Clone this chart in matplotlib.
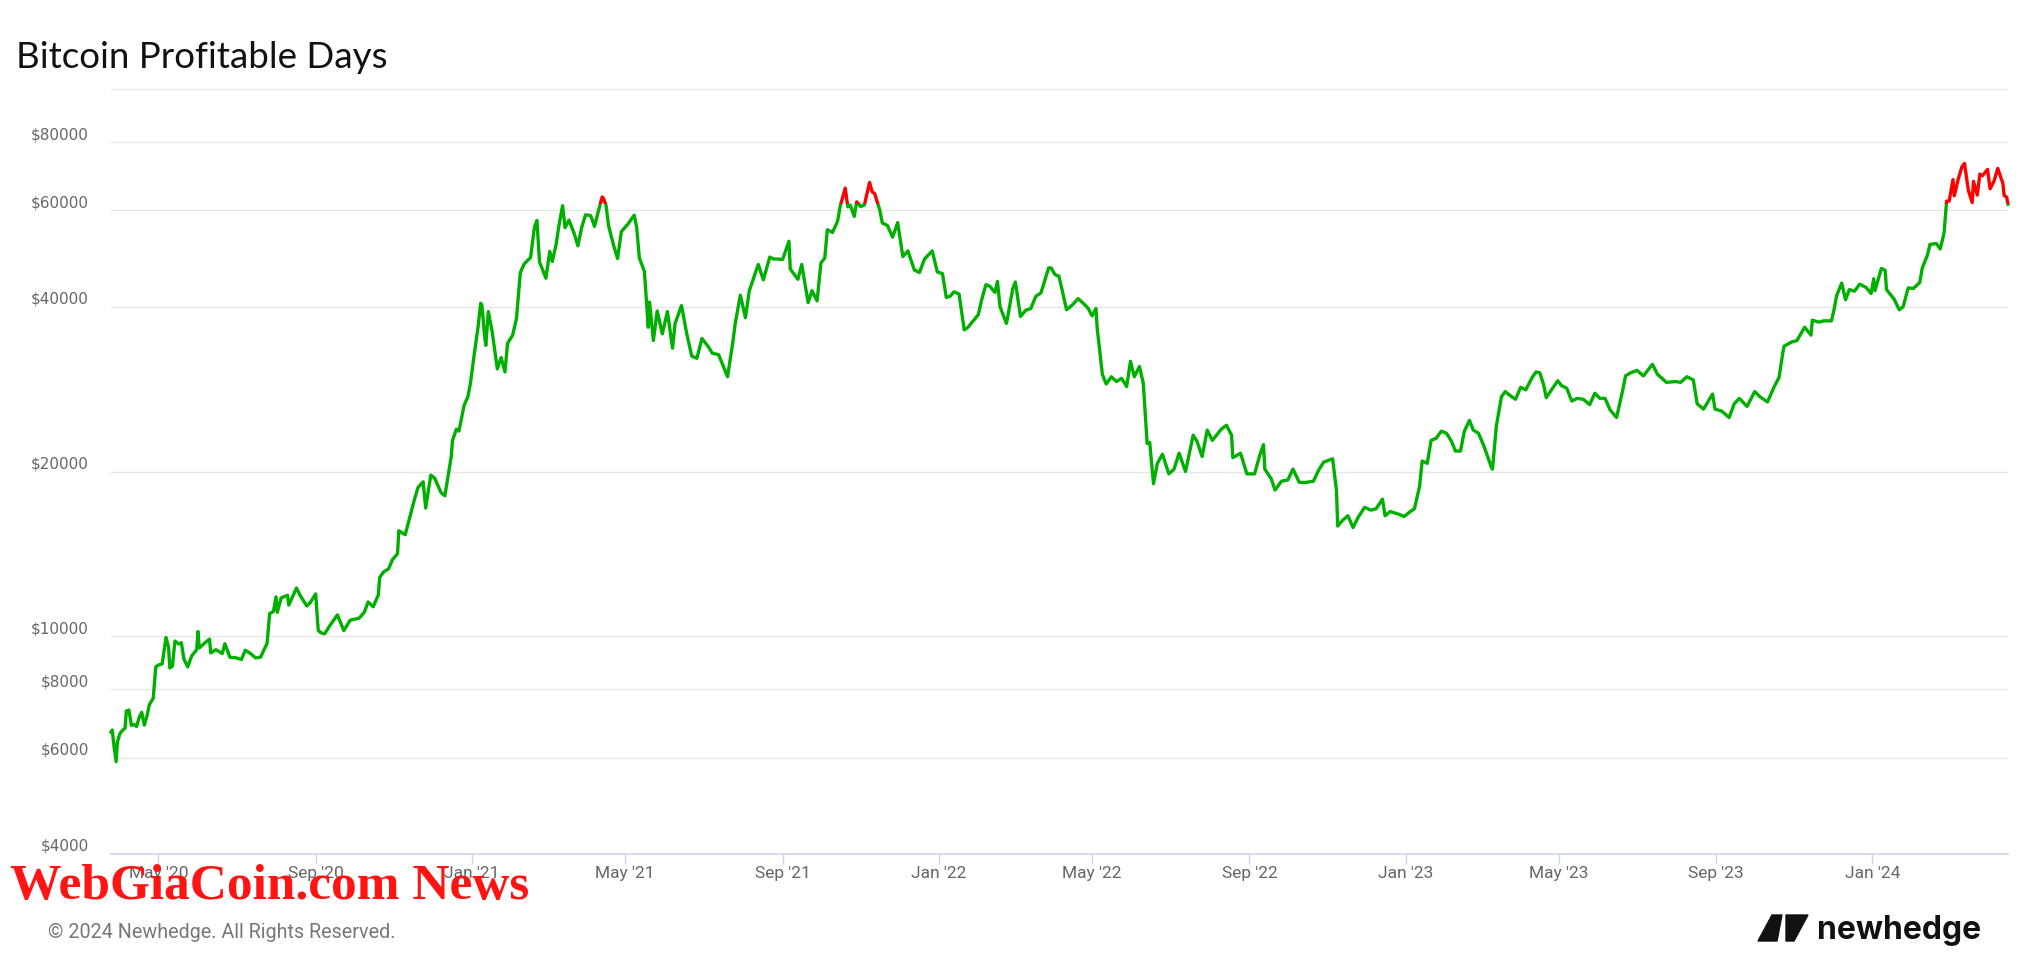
import numpy as np
import pandas as pd
import matplotlib
matplotlib.use("Agg")
import matplotlib.pyplot as plt
from matplotlib.patches import Rectangle, Polygon
import matplotlib.dates as mdates
from matplotlib.ticker import NullLocator

plt.rcParams['font.family'] = ['DejaVu Sans']

# daily close (USD)
d2020 = ["03-25", "03-26", "03-27", "03-29", "03-30", "04-01", "04-03", "04-05", "04-06", "04-08",
         "04-10", "04-12", "04-14", "04-16", "04-18", "04-20", "04-22", "04-24", "04-27", "04-29",
         "05-01", "05-04", "05-07", "05-09", "05-10", "05-12", "05-14", "05-17", "05-19", "05-21",
         "05-24", "05-27", "05-31", "06-01", "06-02", "06-07", "06-10", "06-11", "06-15", "06-20",
         "06-22", "06-26", "06-30", "07-05", "07-08", "07-12", "07-16", "07-20", "07-22", "07-25",
         "07-27", "07-30", "08-01", "08-02", "08-05", "08-10", "08-11", "08-17", "08-20", "08-25",
         "08-28", "09-01", "09-03", "09-05", "09-08", "09-12", "09-18", "09-23", "09-28", "10-05",
         "10-09", "10-12", "10-16", "10-20", "10-21", "10-24", "10-28", "10-31", "11-04", "11-05",
         "11-10", "11-13", "11-17", "11-20", "11-24", "11-26", "11-30", "12-03", "12-08", "12-11",
         "12-16", "12-17", "12-20", "12-22", "12-26", "12-29", "12-31"]
p2020 = [6680, 6740, 6390, 5900, 6410, 6640, 6730, 6790, 7300, 7330,
         6870, 6900, 6840, 7100, 7260, 6880, 7130, 7500, 7700, 8790,
         8860, 8900, 9950, 9550, 8750, 8820, 9800, 9680, 9730, 9080,
         8790, 9200, 9450, 10200, 9520, 9750, 9880, 9320, 9450, 9300,
         9690, 9150, 9140, 9070, 9430, 9300, 9130, 9160, 9380, 9700,
         11000, 11100, 11800, 11060, 11750, 11880, 11400, 12250, 11860, 11360,
         11540, 11950, 10250, 10150, 10100, 10450, 10940, 10240, 10700, 10790,
         11060, 11550, 11320, 11900, 12800, 13100, 13280, 13800, 14150, 15590,
         15330, 16300, 17700, 18700, 19150, 17150, 19700, 19450, 18300, 18060,
         21300, 22800, 23900, 23700, 26400, 27400, 29000]

d2021 = ["01-03", "01-06", "01-08", "01-09", "01-11", "01-12", "01-14", "01-17", "01-21", "01-24",
         "01-27", "01-29", "02-02", "02-05", "02-08", "02-11", "02-14", "02-16", "02-19", "02-21",
         "02-23", "02-25", "02-28", "03-03", "03-05", "03-08", "03-10", "03-13", "03-15", "03-18",
         "03-22", "03-25", "03-28", "03-31", "04-04", "04-07", "04-10", "04-13", "04-14", "04-16",
         "04-18", "04-22", "04-25", "04-28", "05-03", "05-08", "05-10", "05-12", "05-16", "05-19",
         "05-20", "05-23", "05-26", "05-30", "06-03", "06-07", "06-09", "06-14", "06-18", "06-22",
         "06-26", "06-30", "07-05", "07-08", "07-13", "07-20", "07-24", "07-26", "07-30", "08-03",
         "08-06", "08-10", "08-13", "08-17", "08-22", "08-25", "08-28", "09-01", "09-06", "09-07",
         "09-13", "09-16", "09-21", "09-24", "09-28", "10-01", "10-04", "10-06", "10-10", "10-14",
         "10-16", "10-20", "10-22", "10-24", "10-27", "10-29", "11-01", "11-04", "11-08", "11-10",
         "11-12", "11-16", "11-18", "11-22", "11-26", "11-30", "12-04", "12-08", "12-13", "12-17",
         "12-21", "12-27", "12-31"]
p2021 = [32800, 36800, 40600, 40200, 35500, 34000, 39200, 36000, 30800, 32300,
         30400, 34300, 35500, 38100, 46200, 47900, 48700, 49200, 55900, 57500,
         48300, 47000, 45100, 50500, 48400, 52000, 56000, 61200, 55800, 57600,
         54500, 51700, 55900, 58900, 58700, 56100, 59800, 63500, 63100, 61300,
         56200, 51700, 49000, 54900, 56600, 58800, 55800, 49150, 46400, 36700,
         40800, 34700, 39300, 35700, 39200, 33600, 37300, 40200, 35800, 32500,
         32200, 35000, 33800, 32900, 32700, 29800, 34300, 37300, 42000, 38200,
         42800, 45600, 47800, 44800, 49300, 48900, 48900, 48800, 52700, 46900,
         44900, 47800, 40700, 42800, 41000, 48100, 49100, 55300, 54700, 57300,
         61000, 65900, 60900, 61300, 58500, 62200, 61000, 61400, 67500, 64900,
         64400, 60100, 56900, 56300, 53600, 57000, 49400, 50600, 46700, 46200,
         48900, 50600, 46300]

d2022 = ["01-04", "01-07", "01-10", "01-13", "01-17", "01-21", "01-24", "01-28", "02-01", "02-04",
         "02-07", "02-10", "02-14", "02-16", "02-18", "02-23", "02-24", "02-28", "03-02", "03-06",
         "03-10", "03-14", "03-18", "03-22", "03-28", "03-30", "04-02", "04-05", "04-07", "04-11",
         "04-16", "04-20", "04-25", "04-28", "05-01", "05-04", "05-05", "05-09", "05-12", "05-16",
         "05-20", "05-24", "05-28", "05-31", "06-03", "06-07", "06-10", "06-13", "06-15", "06-18",
         "06-21", "06-25", "06-30", "07-04", "07-08", "07-13", "07-19", "07-22", "07-26", "07-30",
         "08-03", "08-10", "08-14", "08-18", "08-19", "08-25", "08-30", "09-05", "09-09", "09-12",
         "09-13", "09-18", "09-21", "09-26", "10-01", "10-05", "10-10", "10-15", "10-21", "10-25",
         "10-29", "11-05", "11-08", "11-09", "11-13", "11-17", "11-21", "11-25", "11-30", "12-05",
         "12-09", "12-14", "12-16", "12-20", "12-27", "12-31"]
p2022 = [46000, 41600, 41800, 42600, 42200, 36300, 36700, 37700, 38700, 41500,
         43900, 43600, 42500, 44500, 40000, 37300, 38300, 43200, 44400, 38400,
         39400, 39700, 41800, 42400, 47100, 47100, 45800, 45500, 43500, 39500,
         40400, 41400, 40400, 39700, 38500, 39700, 36500, 30100, 28900, 29800,
         29200, 29600, 28600, 31800, 29800, 31100, 29000, 22500, 22600, 19000,
         20700, 21500, 19800, 20200, 21600, 20000, 23300, 22700, 21300, 23800,
         22800, 23900, 24300, 23300, 21200, 21600, 19800, 19800, 21400, 22400,
         20200, 19400, 18500, 19200, 19300, 20200, 19100, 19100, 19200, 20100,
         20800, 21100, 18500, 15900, 16300, 16600, 15800, 16500, 17200, 17000,
         17100, 17800, 16600, 16900, 16700, 16550]

d2023 = ["01-04", "01-08", "01-12", "01-14", "01-18", "01-21", "01-25", "01-29", "02-02", "02-06",
         "02-09", "02-13", "02-16", "02-20", "02-23", "02-27", "03-03", "03-09", "03-10", "03-13",
         "03-17", "03-20", "03-24", "03-28", "04-01", "04-05", "04-10", "04-13", "04-16", "04-19",
         "04-21", "04-26", "04-30", "05-03", "05-07", "05-11", "05-15", "05-20", "05-25", "05-29",
         "06-02", "06-06", "06-10", "06-15", "06-20", "06-22", "06-26", "07-01", "07-06", "07-13",
         "07-17", "07-24", "07-31", "08-04", "08-09", "08-14", "08-17", "08-22", "08-29", "08-31",
         "09-05", "09-11", "09-15", "09-19", "09-25", "10-01", "10-05", "10-11", "10-16", "10-20",
         "10-23", "10-24", "10-30", "11-03", "11-09", "11-14", "11-15", "11-20", "11-24", "11-30",
         "12-02", "12-04", "12-08", "12-11", "12-14", "12-18", "12-22", "12-27", "12-31"]
p2023 = [16850, 17100, 18800, 20900, 20700, 22800, 23000, 23700, 23500, 22700,
         21800, 21800, 23700, 24800, 23800, 23500, 22350, 20400, 20200, 24200,
         27400, 28000, 27500, 27100, 28500, 28200, 29700, 30400, 30300, 28800,
         27300, 28400, 29300, 28700, 28400, 26900, 27200, 27100, 26500, 27800,
         27200, 27200, 25900, 25100, 28300, 29900, 30300, 30600, 29900, 31400,
         30100, 29100, 29200, 29100, 29800, 29400, 26600, 26000, 27700, 26000,
         25800, 25100, 26600, 27200, 26300, 28000, 27400, 26800, 28500, 29700,
         33000, 33900, 34500, 34700, 36700, 35500, 37800, 37500, 37700, 37700,
         39500, 41900, 44200, 41200, 43000, 42700, 44000, 43400, 42300]

d2024 = ["01-02", "01-03", "01-08", "01-11", "01-12", "01-18", "01-22", "01-25", "01-29", "02-02",
         "02-07", "02-09", "02-13", "02-15", "02-20", "02-23", "02-26", "02-28", "03-01", "03-04",
         "03-05", "03-08", "03-11", "03-13", "03-16", "03-19", "03-20", "03-23", "03-25", "03-27",
         "03-31", "04-02", "04-05", "04-08", "04-12", "04-13", "04-15", "04-16"]
p2024 = [45000, 42800, 47000, 46600, 43000, 41300, 39500, 40000, 43300, 43200,
         44300, 47100, 49700, 52000, 52200, 51000, 54500, 62400, 62400, 68300,
         63800, 68300, 72100, 73100, 65300, 62000, 67800, 64000, 69900, 69400,
         71300, 65700, 67800, 71600, 67200, 63900, 63400, 61600]

ytick_vals = [4000, 6000, 8000, 10000, 20000, 40000, 60000, 80000, 100000]
ytick_labels = ["$4000", "$6000", "$8000", "$10000", "$20000", "$40000", "$60000", "$80000", ""]
xtick_dates = ["2020-05-01", "2020-09-01", "2021-01-01", "2021-05-01", "2021-09-01", "2022-01-01",
               "2022-05-01", "2022-09-01", "2023-01-01", "2023-05-01", "2023-09-01", "2024-01-01"]
xtick_labels = ["May '20", "Sep '20", "Jan '21", "May '21", "Sep '21", "Jan '22",
                "May '22", "Sep '22", "Jan '23", "May '23", "Sep '23", "Jan '24"]

dates, prices = [], []
for yr, dd, pp in [(2020, d2020, p2020), (2021, d2021, p2021), (2022, d2022, p2022),
                   (2023, d2023, p2023), (2024, d2024, p2024)]:
    dates += [pd.Timestamp(f"{yr}-{s}") for s in dd]
    prices += pp
dates = pd.DatetimeIndex(dates)
prices = np.array(prices, dtype=float)
current = prices[-1]  # red = days bought above today's price

fig = plt.figure(figsize=(20.25, 9.75), dpi=100)
ax = fig.add_axes([111 / 2025, 1 - 854 / 975, (2008 - 111) / 2025, (854 - 89) / 975])

ax.set_yscale('log')
ax.set_ylim(4000, 100000)
ax.set_xlim(dates[0], dates[-1])

green, = ax.plot(dates, prices, color='#00b000', lw=2.4, solid_joinstyle='round', zorder=3)
red, = ax.plot(dates, prices, color='#ff0000', lw=2.4, solid_joinstyle='round', zorder=3)
x0 = mdates.date2num(dates[0]) - 50
x1 = mdates.date2num(dates[-1]) + 50
clip_g = Rectangle((x0, 1), x1 - x0, current - 1, transform=ax.transData)
clip_r = Rectangle((x0, current), x1 - x0, 1e7, transform=ax.transData)
green.set_clip_path(clip_g)
red.set_clip_path(clip_r)

ax.set_yticks(ytick_vals)
ax.set_yticklabels(ytick_labels, va='bottom')
ax.yaxis.set_minor_locator(NullLocator())
ax.set_xticks([pd.Timestamp(s) for s in xtick_dates])
ax.set_xticklabels(xtick_labels, family=['Roboto', 'DejaVu Sans'], fontsize=12.5)
ax.xaxis.set_minor_locator(NullLocator())

ax.grid(axis='y', color='#e6e6e6', lw=1)
ax.tick_params(axis='y', length=0, pad=16, labelsize=11, labelcolor='#666666')
ax.tick_params(axis='x', length=7.5, width=1, color='#ccd6eb', pad=1, labelcolor='#666666')
for s in ['top', 'right', 'left']:
    ax.spines[s].set_visible(False)
ax.spines['bottom'].set_color('#ccd6eb')
ax.spines['bottom'].set_linewidth(1.2)
ax.set_axisbelow(True)

fig.text(16 / 2025, 1 - 58 / 975, "Bitcoin Profitable Days", fontsize=26.5, family=['Lato', 'DejaVu Sans'],
         color='#111111', va='center', ha='left')
fig.text(48 / 2025, 1 - 933 / 975, "\u00a9 2024 Newhedge. All Rights Reserved.", fontsize=14.2,
         family=['Roboto', 'DejaVu Sans'], color='#777777', va='center', ha='left')
fig.text(10 / 2025, 1 - 887 / 975, "WebGiaCoin.com News", fontsize=37, fontweight='bold',
         family=['Liberation Serif', 'DejaVu Serif'], color='#ff1414', va='center', ha='left', zorder=10)

# newhedge logo
W, H = 2025, 975
icon1 = [(1758, 941), (1777, 941), (1782, 915), (1772, 915)]
icon2 = [(1786, 915), (1808, 915), (1794, 941), (1786, 941)]
for pts in (icon1, icon2):
    fig.add_artist(Polygon([(x / W, 1 - y / H) for x, y in pts], closed=True,
                           transform=fig.transFigure, color='#111111'))
fig.text(1817 / W, 1 - 939 / H, "newhedge", fontsize=23, fontweight='bold', family=['Inter', 'DejaVu Sans'],
         color='#111111', va='baseline', ha='left')

fig.savefig("out.png", dpi=100)
